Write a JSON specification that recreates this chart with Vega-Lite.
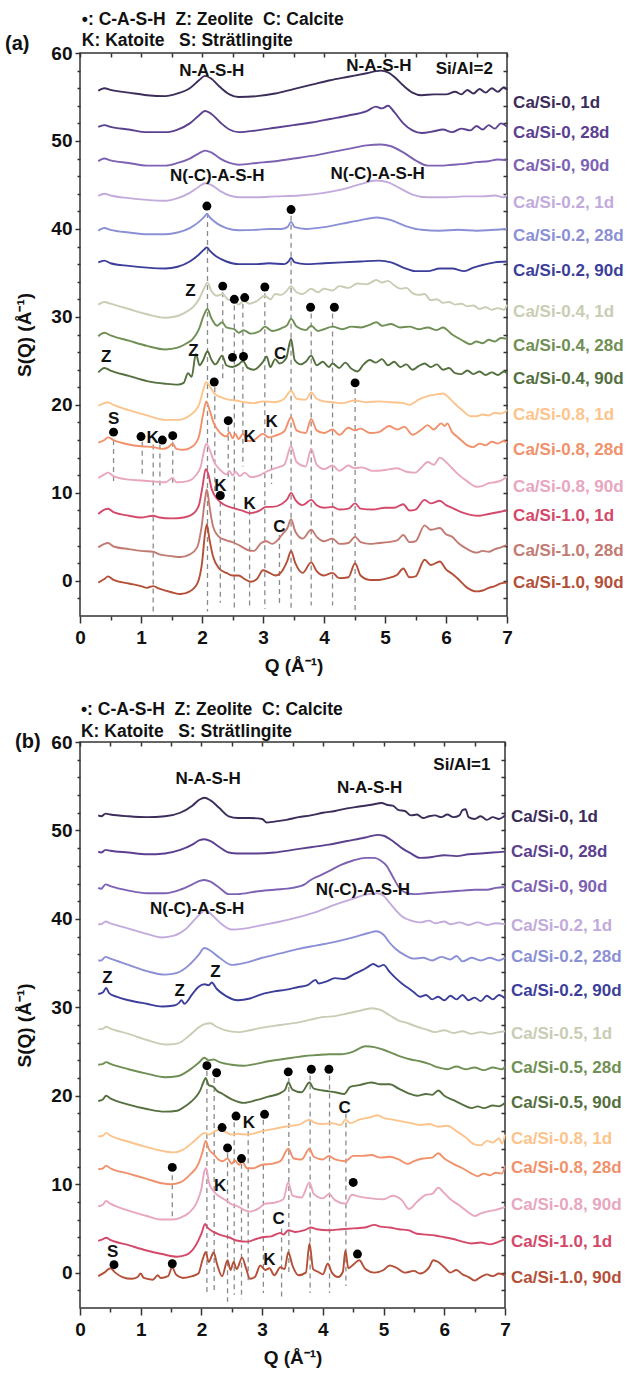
{
  "$schema": "https://vega.github.io/schema/vega-lite/v6.json",
  "padding": {"left": 4, "top": 10, "right": 0, "bottom": 0},
  "spacing": 23,
  "config": {
    "view": {"stroke": "#333", "strokeWidth": 1.5},
    "font": "Liberation Sans",
    "axis": {"grid": false, "domain": false, "tickColor": "#333", "tickWidth": 1.5, "labelFlush": false,
      "labelFont": "Liberation Sans", "labelFontWeight": "bold", "labelFontSize": 19, "labelColor": "#111",
      "titleFont": "Liberation Sans", "titleFontWeight": "bold", "titleFontSize": 19, "titleColor": "#111"}
  },
  "resolve": {"scale": {"color": "independent"}},
  "datasets": {
    "a": [
      {"k":1,"q":0.3,"v":55.7},{"k":1,"q":0.4,"v":56.0},{"k":1,"q":0.5,"v":55.8},{"k":1,"q":0.8,"v":55.5},{"k":1,"q":1.1,"v":55.2},{"k":1,"q":1.4,"v":55.1},{"k":1,"q":1.6,"v":55.4},{"k":1,"q":1.8,"v":56.0},{"k":1,"q":1.95,"v":56.9},{"k":1,"q":2.05,"v":57.4},{"k":1,"q":2.15,"v":57.1},{"k":1,"q":2.3,"v":56.1},{"k":1,"q":2.45,"v":55.3},{"k":1,"q":2.6,"v":55.0},{"k":1,"q":2.9,"v":55.1},{"k":1,"q":3.2,"v":55.4},{"k":1,"q":3.5,"v":55.9},{"k":1,"q":3.8,"v":56.4},{"k":1,"q":4.1,"v":56.9},{"k":1,"q":4.4,"v":57.3},{"k":1,"q":4.7,"v":57.7},{"k":1,"q":4.93,"v":58.0},{"k":1,"q":5.05,"v":57.8},{"k":1,"q":5.15,"v":57.3},{"k":1,"q":5.3,"v":56.3},{"k":1,"q":5.45,"v":55.5},{"k":1,"q":5.6,"v":55.2},{"k":1,"q":5.8,"v":55.3},{"k":1,"q":6.0,"v":55.3},{"k":1,"q":6.15,"v":55.6},{"k":1,"q":6.25,"v":55.3},{"k":1,"q":6.35,"v":55.8},{"k":1,"q":6.45,"v":55.4},{"k":1,"q":6.55,"v":55.9},{"k":1,"q":6.65,"v":55.5},{"k":1,"q":6.75,"v":56.0},{"k":1,"q":6.85,"v":55.6},{"k":1,"q":6.95,"v":56.1},{"k":1,"q":7.0,"v":55.8},
      {"k":2,"q":0.3,"v":51.6},{"k":2,"q":0.4,"v":51.8},{"k":2,"q":0.5,"v":51.6},{"k":2,"q":0.8,"v":51.3},{"k":2,"q":1.1,"v":51.0},{"k":2,"q":1.4,"v":51.0},{"k":2,"q":1.6,"v":51.3},{"k":2,"q":1.8,"v":52.0},{"k":2,"q":1.95,"v":52.9},{"k":2,"q":2.05,"v":53.4},{"k":2,"q":2.15,"v":53.1},{"k":2,"q":2.3,"v":52.1},{"k":2,"q":2.45,"v":51.3},{"k":2,"q":2.6,"v":51.0},{"k":2,"q":2.9,"v":51.2},{"k":2,"q":3.2,"v":51.5},{"k":2,"q":3.5,"v":51.8},{"k":2,"q":3.8,"v":52.1},{"k":2,"q":4.1,"v":52.5},{"k":2,"q":4.4,"v":52.9},{"k":2,"q":4.7,"v":53.4},{"k":2,"q":4.85,"v":53.9},{"k":2,"q":4.95,"v":53.7},{"k":2,"q":5.05,"v":54.0},{"k":2,"q":5.15,"v":53.3},{"k":2,"q":5.3,"v":52.0},{"k":2,"q":5.45,"v":51.2},{"k":2,"q":5.6,"v":50.9},{"k":2,"q":5.8,"v":51.1},{"k":2,"q":5.95,"v":51.3},{"k":2,"q":6.1,"v":51.0},{"k":2,"q":6.25,"v":51.4},{"k":2,"q":6.4,"v":51.2},{"k":2,"q":6.5,"v":51.7},{"k":2,"q":6.6,"v":51.3},{"k":2,"q":6.7,"v":51.8},{"k":2,"q":6.8,"v":51.4},{"k":2,"q":6.9,"v":52.0},{"k":2,"q":7.0,"v":51.6},
      {"k":3,"q":0.3,"v":47.7},{"k":3,"q":0.4,"v":48.0},{"k":3,"q":0.5,"v":47.8},{"k":3,"q":0.8,"v":47.5},{"k":3,"q":1.1,"v":47.2},{"k":3,"q":1.4,"v":47.2},{"k":3,"q":1.6,"v":47.5},{"k":3,"q":1.8,"v":48.0},{"k":3,"q":1.95,"v":48.6},{"k":3,"q":2.05,"v":48.9},{"k":3,"q":2.15,"v":48.7},{"k":3,"q":2.3,"v":48.0},{"k":3,"q":2.45,"v":47.5},{"k":3,"q":2.6,"v":47.3},{"k":3,"q":2.9,"v":47.5},{"k":3,"q":3.2,"v":47.7},{"k":3,"q":3.5,"v":48.0},{"k":3,"q":3.8,"v":48.3},{"k":3,"q":4.1,"v":48.7},{"k":3,"q":4.4,"v":49.1},{"k":3,"q":4.7,"v":49.5},{"k":3,"q":4.93,"v":49.6},{"k":3,"q":5.1,"v":49.4},{"k":3,"q":5.3,"v":48.7},{"k":3,"q":5.5,"v":47.8},{"k":3,"q":5.7,"v":47.2},{"k":3,"q":5.9,"v":47.2},{"k":3,"q":6.1,"v":47.3},{"k":3,"q":6.3,"v":47.4},{"k":3,"q":6.5,"v":47.6},{"k":3,"q":6.7,"v":47.7},{"k":3,"q":6.85,"v":47.9},{"k":3,"q":7.0,"v":47.8},
      {"k":4,"q":0.3,"v":43.75},{"k":4,"q":0.4,"v":44.0},{"k":4,"q":0.5,"v":43.8},{"k":4,"q":0.8,"v":43.5},{"k":4,"q":1.1,"v":43.3},{"k":4,"q":1.4,"v":43.2},{"k":4,"q":1.6,"v":43.5},{"k":4,"q":1.8,"v":44.1},{"k":4,"q":1.95,"v":44.8},{"k":4,"q":2.05,"v":45.2},{"k":4,"q":2.15,"v":45.0},{"k":4,"q":2.3,"v":44.3},{"k":4,"q":2.45,"v":43.8},{"k":4,"q":2.6,"v":43.6},{"k":4,"q":2.9,"v":43.6},{"k":4,"q":3.2,"v":43.7},{"k":4,"q":3.6,"v":43.8},{"k":4,"q":4.0,"v":44.1},{"k":4,"q":4.3,"v":44.5},{"k":4,"q":4.6,"v":45.1},{"k":4,"q":4.86,"v":45.5},{"k":4,"q":5.05,"v":45.3},{"k":4,"q":5.25,"v":44.6},{"k":4,"q":5.45,"v":43.9},{"k":4,"q":5.7,"v":43.6},{"k":4,"q":6.0,"v":43.6},{"k":4,"q":6.3,"v":43.7},{"k":4,"q":6.6,"v":43.7},{"k":4,"q":6.8,"v":43.8},{"k":4,"q":6.95,"v":43.6},{"k":4,"q":7.0,"v":43.9},
      {"k":5,"q":0.3,"v":39.8},{"k":5,"q":0.4,"v":40.1},{"k":5,"q":0.5,"v":39.9},{"k":5,"q":0.8,"v":39.6},{"k":5,"q":1.1,"v":39.4},{"k":5,"q":1.4,"v":39.4},{"k":5,"q":1.6,"v":39.6},{"k":5,"q":1.8,"v":40.1},{"k":5,"q":1.95,"v":40.8},{"k":5,"q":2.04,"v":41.4},{"k":5,"q":2.08,"v":41.7},{"k":5,"q":2.13,"v":41.3},{"k":5,"q":2.25,"v":40.6},{"k":5,"q":2.4,"v":40.1},{"k":5,"q":2.6,"v":39.85},{"k":5,"q":2.9,"v":39.9},{"k":5,"q":3.1,"v":40.0},{"k":5,"q":3.3,"v":40.0},{"k":5,"q":3.4,"v":40.2},{"k":5,"q":3.46,"v":40.8},{"k":5,"q":3.52,"v":40.2},{"k":5,"q":3.7,"v":40.0},{"k":5,"q":4.0,"v":40.2},{"k":5,"q":4.3,"v":40.6},{"k":5,"q":4.6,"v":41.0},{"k":5,"q":4.86,"v":41.3},{"k":5,"q":5.1,"v":41.0},{"k":5,"q":5.35,"v":40.3},{"k":5,"q":5.6,"v":39.9},{"k":5,"q":5.9,"v":39.8},{"k":5,"q":6.2,"v":39.9},{"k":5,"q":6.5,"v":39.8},{"k":5,"q":6.8,"v":39.9},{"k":5,"q":7.0,"v":40.0},
      {"k":6,"q":0.3,"v":36.2},{"k":6,"q":0.4,"v":36.4},{"k":6,"q":0.5,"v":36.1},{"k":6,"q":0.8,"v":35.8},{"k":6,"q":1.1,"v":35.6},{"k":6,"q":1.4,"v":35.5},{"k":6,"q":1.6,"v":35.7},{"k":6,"q":1.8,"v":36.3},{"k":6,"q":1.95,"v":37.1},{"k":6,"q":2.04,"v":37.7},{"k":6,"q":2.08,"v":37.9},{"k":6,"q":2.13,"v":37.5},{"k":6,"q":2.25,"v":36.8},{"k":6,"q":2.4,"v":36.3},{"k":6,"q":2.6,"v":36.0},{"k":6,"q":2.9,"v":36.0},{"k":6,"q":3.1,"v":36.1},{"k":6,"q":3.35,"v":36.0},{"k":6,"q":3.42,"v":36.3},{"k":6,"q":3.46,"v":36.7},{"k":6,"q":3.52,"v":36.2},{"k":6,"q":3.7,"v":36.0},{"k":6,"q":4.0,"v":36.1},{"k":6,"q":4.3,"v":36.2},{"k":6,"q":4.6,"v":36.3},{"k":6,"q":4.9,"v":36.4},{"k":6,"q":5.1,"v":36.2},{"k":6,"q":5.3,"v":35.6},{"k":6,"q":5.5,"v":35.2},{"k":6,"q":5.7,"v":35.2},{"k":6,"q":5.9,"v":35.5},{"k":6,"q":6.1,"v":35.5},{"k":6,"q":6.3,"v":35.2},{"k":6,"q":6.45,"v":35.6},{"k":6,"q":6.6,"v":35.9},{"k":6,"q":6.8,"v":36.2},{"k":6,"q":7.0,"v":36.3},
      {"k":7,"q":0.3,"v":31.4},{"k":7,"q":0.4,"v":31.7},{"k":7,"q":0.5,"v":31.5},{"k":7,"q":0.8,"v":30.9},{"k":7,"q":1.1,"v":30.3},{"k":7,"q":1.4,"v":29.9},{"k":7,"q":1.6,"v":30.1},{"k":7,"q":1.75,"v":30.6},{"k":7,"q":1.85,"v":31.1},{"k":7,"q":1.95,"v":32.0},{"k":7,"q":2.03,"v":33.2},{"k":7,"q":2.09,"v":33.9},{"k":7,"q":2.15,"v":33.0},{"k":7,"q":2.25,"v":32.4},{"k":7,"q":2.34,"v":32.6},{"k":7,"q":2.42,"v":32.0},{"k":7,"q":2.53,"v":31.8},{"k":7,"q":2.6,"v":31.4},{"k":7,"q":2.68,"v":31.8},{"k":7,"q":2.78,"v":31.5},{"k":7,"q":2.9,"v":31.8},{"k":7,"q":3.03,"v":32.4},{"k":7,"q":3.12,"v":32.0},{"k":7,"q":3.2,"v":32.6},{"k":7,"q":3.3,"v":32.5},{"k":7,"q":3.38,"v":32.9},{"k":7,"q":3.46,"v":33.5},{"k":7,"q":3.55,"v":32.8},{"k":7,"q":3.65,"v":32.6},{"k":7,"q":3.79,"v":33.2},{"k":7,"q":3.9,"v":32.8},{"k":7,"q":4.0,"v":33.2},{"k":7,"q":4.14,"v":33.0},{"k":7,"q":4.25,"v":33.5},{"k":7,"q":4.4,"v":33.3},{"k":7,"q":4.55,"v":33.8},{"k":7,"q":4.7,"v":33.7},{"k":7,"q":4.86,"v":34.2},{"k":7,"q":4.95,"v":33.9},{"k":7,"q":5.05,"v":34.1},{"k":7,"q":5.15,"v":33.6},{"k":7,"q":5.25,"v":33.2},{"k":7,"q":5.35,"v":33.3},{"k":7,"q":5.45,"v":32.7},{"k":7,"q":5.55,"v":32.5},{"k":7,"q":5.65,"v":32.6},{"k":7,"q":5.75,"v":31.9},{"k":7,"q":5.85,"v":32.0},{"k":7,"q":5.95,"v":31.6},{"k":7,"q":6.05,"v":31.7},{"k":7,"q":6.15,"v":31.4},{"k":7,"q":6.25,"v":31.5},{"k":7,"q":6.35,"v":31.2},{"k":7,"q":6.45,"v":31.3},{"k":7,"q":6.55,"v":30.9},{"k":7,"q":6.65,"v":31.1},{"k":7,"q":6.75,"v":30.8},{"k":7,"q":6.85,"v":31.0},{"k":7,"q":6.95,"v":30.8},{"k":7,"q":7.0,"v":31.4},
      {"k":8,"q":0.3,"v":27.8},{"k":8,"q":0.4,"v":28.2},{"k":8,"q":0.5,"v":27.9},{"k":8,"q":0.8,"v":27.3},{"k":8,"q":1.1,"v":26.7},{"k":8,"q":1.4,"v":26.3},{"k":8,"q":1.6,"v":26.5},{"k":8,"q":1.75,"v":27.0},{"k":8,"q":1.85,"v":27.5},{"k":8,"q":1.95,"v":28.6},{"k":8,"q":2.03,"v":30.2},{"k":8,"q":2.09,"v":30.9},{"k":8,"q":2.15,"v":29.9},{"k":8,"q":2.25,"v":29.0},{"k":8,"q":2.33,"v":29.4},{"k":8,"q":2.4,"v":28.8},{"k":8,"q":2.53,"v":28.6},{"k":8,"q":2.6,"v":28.2},{"k":8,"q":2.68,"v":28.5},{"k":8,"q":2.8,"v":28.1},{"k":8,"q":2.95,"v":28.4},{"k":8,"q":3.03,"v":28.9},{"k":8,"q":3.15,"v":28.4},{"k":8,"q":3.3,"v":28.7},{"k":8,"q":3.4,"v":29.1},{"k":8,"q":3.46,"v":29.8},{"k":8,"q":3.55,"v":28.9},{"k":8,"q":3.7,"v":28.5},{"k":8,"q":3.79,"v":29.0},{"k":8,"q":3.9,"v":28.4},{"k":8,"q":4.0,"v":28.6},{"k":8,"q":4.14,"v":28.9},{"k":8,"q":4.3,"v":28.6},{"k":8,"q":4.45,"v":28.9},{"k":8,"q":4.6,"v":28.8},{"k":8,"q":4.75,"v":29.1},{"k":8,"q":4.86,"v":29.4},{"k":8,"q":4.95,"v":29.0},{"k":8,"q":5.1,"v":29.2},{"k":8,"q":5.25,"v":28.8},{"k":8,"q":5.4,"v":28.9},{"k":8,"q":5.55,"v":28.6},{"k":8,"q":5.7,"v":28.8},{"k":8,"q":5.85,"v":28.5},{"k":8,"q":5.95,"v":28.8},{"k":8,"q":6.1,"v":28.0},{"k":8,"q":6.25,"v":27.4},{"k":8,"q":6.4,"v":26.9},{"k":8,"q":6.5,"v":27.2},{"k":8,"q":6.6,"v":27.0},{"k":8,"q":6.7,"v":27.4},{"k":8,"q":6.8,"v":27.2},{"k":8,"q":6.9,"v":27.6},{"k":8,"q":7.0,"v":27.5},
      {"k":9,"q":0.3,"v":23.7},{"k":9,"q":0.4,"v":24.2},{"k":9,"q":0.5,"v":23.9},{"k":9,"q":0.8,"v":23.3},{"k":9,"q":1.1,"v":22.7},{"k":9,"q":1.4,"v":22.4},{"k":9,"q":1.6,"v":22.3},{"k":9,"q":1.7,"v":22.5},{"k":9,"q":1.77,"v":23.6},{"k":9,"q":1.83,"v":23.2},{"k":9,"q":1.9,"v":25.8},{"k":9,"q":1.96,"v":24.5},{"k":9,"q":2.02,"v":25.1},{"k":9,"q":2.09,"v":26.1},{"k":9,"q":2.15,"v":25.2},{"k":9,"q":2.22,"v":24.6},{"k":9,"q":2.33,"v":25.6},{"k":9,"q":2.4,"v":24.5},{"k":9,"q":2.5,"v":24.3},{"k":9,"q":2.6,"v":24.6},{"k":9,"q":2.67,"v":25.0},{"k":9,"q":2.75,"v":24.2},{"k":9,"q":2.85,"v":24.0},{"k":9,"q":3.0,"v":24.9},{"k":9,"q":3.06,"v":25.5},{"k":9,"q":3.12,"v":24.3},{"k":9,"q":3.2,"v":25.2},{"k":9,"q":3.27,"v":24.7},{"k":9,"q":3.38,"v":25.3},{"k":9,"q":3.46,"v":27.5},{"k":9,"q":3.52,"v":25.1},{"k":9,"q":3.62,"v":24.6},{"k":9,"q":3.7,"v":24.9},{"k":9,"q":3.79,"v":25.6},{"k":9,"q":3.88,"v":24.5},{"k":9,"q":3.98,"v":24.9},{"k":9,"q":4.08,"v":24.3},{"k":9,"q":4.14,"v":24.7},{"k":9,"q":4.25,"v":24.2},{"k":9,"q":4.35,"v":24.8},{"k":9,"q":4.45,"v":24.1},{"k":9,"q":4.55,"v":23.8},{"k":9,"q":4.65,"v":24.6},{"k":9,"q":4.75,"v":25.1},{"k":9,"q":4.85,"v":24.8},{"k":9,"q":4.95,"v":25.2},{"k":9,"q":5.05,"v":24.5},{"k":9,"q":5.15,"v":24.9},{"k":9,"q":5.25,"v":24.3},{"k":9,"q":5.35,"v":24.6},{"k":9,"q":5.45,"v":24.0},{"k":9,"q":5.55,"v":24.4},{"k":9,"q":5.65,"v":24.7},{"k":9,"q":5.75,"v":24.3},{"k":9,"q":5.85,"v":24.6},{"k":9,"q":5.95,"v":24.0},{"k":9,"q":6.05,"v":24.2},{"k":9,"q":6.15,"v":23.6},{"k":9,"q":6.25,"v":23.5},{"k":9,"q":6.35,"v":23.9},{"k":9,"q":6.45,"v":23.5},{"k":9,"q":6.55,"v":23.8},{"k":9,"q":6.65,"v":23.4},{"k":9,"q":6.75,"v":23.7},{"k":9,"q":6.85,"v":23.4},{"k":9,"q":6.95,"v":23.8},{"k":9,"q":7.0,"v":23.6},
      {"k":10,"q":0.3,"v":19.9},{"k":10,"q":0.4,"v":20.2},{"k":10,"q":0.45,"v":20.3},{"k":10,"q":0.55,"v":20.0},{"k":10,"q":0.8,"v":19.4},{"k":10,"q":1.1,"v":18.8},{"k":10,"q":1.4,"v":18.3},{"k":10,"q":1.6,"v":18.3},{"k":10,"q":1.8,"v":18.8},{"k":10,"q":1.95,"v":20.0},{"k":10,"q":2.02,"v":21.7},{"k":10,"q":2.07,"v":22.6},{"k":10,"q":2.12,"v":22.2},{"k":10,"q":2.2,"v":21.3},{"k":10,"q":2.3,"v":20.9},{"k":10,"q":2.43,"v":20.6},{"k":10,"q":2.55,"v":20.5},{"k":10,"q":2.7,"v":20.3},{"k":10,"q":2.85,"v":20.2},{"k":10,"q":3.0,"v":20.4},{"k":10,"q":3.2,"v":20.3},{"k":10,"q":3.35,"v":20.7},{"k":10,"q":3.46,"v":21.6},{"k":10,"q":3.55,"v":20.7},{"k":10,"q":3.7,"v":20.6},{"k":10,"q":3.79,"v":21.4},{"k":10,"q":3.88,"v":20.7},{"k":10,"q":4.0,"v":20.4},{"k":10,"q":4.14,"v":20.3},{"k":10,"q":4.3,"v":20.2},{"k":10,"q":4.5,"v":20.5},{"k":10,"q":4.7,"v":20.3},{"k":10,"q":4.9,"v":20.4},{"k":10,"q":5.1,"v":20.3},{"k":10,"q":5.3,"v":20.2},{"k":10,"q":5.4,"v":20.0},{"k":10,"q":5.55,"v":20.6},{"k":10,"q":5.7,"v":21.0},{"k":10,"q":5.85,"v":21.2},{"k":10,"q":5.95,"v":21.3},{"k":10,"q":6.05,"v":20.8},{"k":10,"q":6.15,"v":20.1},{"k":10,"q":6.3,"v":19.2},{"k":10,"q":6.4,"v":18.7},{"k":10,"q":6.5,"v":18.7},{"k":10,"q":6.6,"v":18.9},{"k":10,"q":6.7,"v":18.8},{"k":10,"q":6.8,"v":19.1},{"k":10,"q":6.9,"v":19.0},{"k":10,"q":7.0,"v":19.4},
      {"k":11,"q":0.3,"v":15.7},{"k":11,"q":0.4,"v":16.0},{"k":11,"q":0.46,"v":16.3},{"k":11,"q":0.55,"v":16.0},{"k":11,"q":0.8,"v":15.5},{"k":11,"q":1.0,"v":15.3},{"k":11,"q":1.2,"v":15.2},{"k":11,"q":1.35,"v":15.0},{"k":11,"q":1.45,"v":15.2},{"k":11,"q":1.52,"v":15.6},{"k":11,"q":1.58,"v":15.0},{"k":11,"q":1.7,"v":14.9},{"k":11,"q":1.85,"v":15.3},{"k":11,"q":1.95,"v":16.4},{"k":11,"q":2.02,"v":19.0},{"k":11,"q":2.07,"v":20.4},{"k":11,"q":2.12,"v":19.5},{"k":11,"q":2.2,"v":17.8},{"k":11,"q":2.3,"v":16.8},{"k":11,"q":2.4,"v":16.4},{"k":11,"q":2.45,"v":16.9},{"k":11,"q":2.5,"v":16.2},{"k":11,"q":2.55,"v":16.7},{"k":11,"q":2.6,"v":16.1},{"k":11,"q":2.67,"v":16.7},{"k":11,"q":2.75,"v":15.9},{"k":11,"q":2.85,"v":16.0},{"k":11,"q":3.0,"v":16.7},{"k":11,"q":3.1,"v":16.3},{"k":11,"q":3.2,"v":16.5},{"k":11,"q":3.35,"v":17.0},{"k":11,"q":3.46,"v":18.6},{"k":11,"q":3.55,"v":17.1},{"k":11,"q":3.7,"v":16.8},{"k":11,"q":3.79,"v":18.4},{"k":11,"q":3.88,"v":17.1},{"k":11,"q":4.0,"v":16.8},{"k":11,"q":4.14,"v":17.2},{"k":11,"q":4.25,"v":16.6},{"k":11,"q":4.4,"v":17.4},{"k":11,"q":4.5,"v":17.1},{"k":11,"q":4.6,"v":17.3},{"k":11,"q":4.75,"v":16.8},{"k":11,"q":4.9,"v":16.9},{"k":11,"q":5.07,"v":17.6},{"k":11,"q":5.2,"v":17.2},{"k":11,"q":5.32,"v":17.5},{"k":11,"q":5.45,"v":16.6},{"k":11,"q":5.6,"v":17.2},{"k":11,"q":5.7,"v":17.7},{"k":11,"q":5.8,"v":17.2},{"k":11,"q":5.92,"v":17.9},{"k":11,"q":5.98,"v":17.6},{"k":11,"q":6.02,"v":17.9},{"k":11,"q":6.1,"v":16.9},{"k":11,"q":6.2,"v":16.3},{"k":11,"q":6.35,"v":15.4},{"k":11,"q":6.45,"v":15.2},{"k":11,"q":6.55,"v":15.6},{"k":11,"q":6.65,"v":15.4},{"k":11,"q":6.75,"v":15.8},{"k":11,"q":6.85,"v":15.6},{"k":11,"q":6.95,"v":15.9},{"k":11,"q":7.0,"v":15.7},
      {"k":12,"q":0.3,"v":11.7},{"k":12,"q":0.4,"v":12.1},{"k":12,"q":0.46,"v":12.3},{"k":12,"q":0.55,"v":11.9},{"k":12,"q":0.8,"v":11.5},{"k":12,"q":1.0,"v":11.4},{"k":12,"q":1.2,"v":11.3},{"k":12,"q":1.4,"v":11.2},{"k":12,"q":1.52,"v":11.7},{"k":12,"q":1.58,"v":11.2},{"k":12,"q":1.75,"v":11.3},{"k":12,"q":1.9,"v":12.0},{"k":12,"q":1.98,"v":13.0},{"k":12,"q":2.03,"v":14.7},{"k":12,"q":2.07,"v":15.6},{"k":12,"q":2.12,"v":15.0},{"k":12,"q":2.2,"v":13.5},{"k":12,"q":2.3,"v":12.6},{"k":12,"q":2.4,"v":12.1},{"k":12,"q":2.45,"v":12.5},{"k":12,"q":2.5,"v":12.0},{"k":12,"q":2.55,"v":12.4},{"k":12,"q":2.62,"v":11.9},{"k":12,"q":2.7,"v":12.3},{"k":12,"q":2.8,"v":11.8},{"k":12,"q":2.95,"v":12.0},{"k":12,"q":3.05,"v":12.4},{"k":12,"q":3.2,"v":12.8},{"k":12,"q":3.35,"v":13.2},{"k":12,"q":3.46,"v":15.3},{"k":12,"q":3.55,"v":13.5},{"k":12,"q":3.7,"v":13.0},{"k":12,"q":3.79,"v":15.0},{"k":12,"q":3.88,"v":13.2},{"k":12,"q":4.0,"v":12.7},{"k":12,"q":4.14,"v":13.1},{"k":12,"q":4.25,"v":12.5},{"k":12,"q":4.4,"v":13.1},{"k":12,"q":4.5,"v":12.8},{"k":12,"q":4.62,"v":12.9},{"k":12,"q":4.8,"v":12.5},{"k":12,"q":5.0,"v":12.6},{"k":12,"q":5.2,"v":12.8},{"k":12,"q":5.35,"v":12.4},{"k":12,"q":5.5,"v":12.3},{"k":12,"q":5.6,"v":12.9},{"k":12,"q":5.7,"v":13.5},{"k":12,"q":5.8,"v":13.2},{"k":12,"q":5.9,"v":14.0},{"k":12,"q":6.0,"v":13.5},{"k":12,"q":6.1,"v":12.8},{"k":12,"q":6.2,"v":12.1},{"k":12,"q":6.35,"v":11.3},{"k":12,"q":6.5,"v":10.7},{"k":12,"q":6.6,"v":10.8},{"k":12,"q":6.7,"v":11.1},{"k":12,"q":6.8,"v":11.2},{"k":12,"q":6.9,"v":11.4},{"k":12,"q":7.0,"v":11.8},
      {"k":13,"q":0.3,"v":7.6},{"k":13,"q":0.4,"v":8.1},{"k":13,"q":0.46,"v":8.2},{"k":13,"q":0.55,"v":7.8},{"k":13,"q":0.8,"v":7.4},{"k":13,"q":1.0,"v":7.2},{"k":13,"q":1.2,"v":7.4},{"k":13,"q":1.3,"v":7.2},{"k":13,"q":1.5,"v":7.1},{"k":13,"q":1.7,"v":7.2},{"k":13,"q":1.85,"v":7.6},{"k":13,"q":1.95,"v":8.6},{"k":13,"q":2.01,"v":10.8},{"k":13,"q":2.06,"v":12.7},{"k":13,"q":2.1,"v":12.2},{"k":13,"q":2.16,"v":10.4},{"k":13,"q":2.25,"v":9.3},{"k":13,"q":2.35,"v":8.7},{"k":13,"q":2.5,"v":8.3},{"k":13,"q":2.65,"v":8.0},{"k":13,"q":2.8,"v":7.7},{"k":13,"q":2.95,"v":8.0},{"k":13,"q":3.05,"v":8.4},{"k":13,"q":3.15,"v":8.4},{"k":13,"q":3.3,"v":8.7},{"k":13,"q":3.4,"v":9.3},{"k":13,"q":3.46,"v":10.0},{"k":13,"q":3.53,"v":9.2},{"k":13,"q":3.65,"v":8.6},{"k":13,"q":3.79,"v":9.2},{"k":13,"q":3.88,"v":8.6},{"k":13,"q":4.0,"v":8.3},{"k":13,"q":4.14,"v":8.4},{"k":13,"q":4.25,"v":8.1},{"k":13,"q":4.4,"v":8.2},{"k":13,"q":4.51,"v":8.8},{"k":13,"q":4.6,"v":8.2},{"k":13,"q":4.8,"v":8.1},{"k":13,"q":5.0,"v":8.3},{"k":13,"q":5.15,"v":8.3},{"k":13,"q":5.3,"v":8.7},{"k":13,"q":5.4,"v":8.0},{"k":13,"q":5.5,"v":8.1},{"k":13,"q":5.65,"v":9.2},{"k":13,"q":5.75,"v":8.8},{"k":13,"q":5.9,"v":9.1},{"k":13,"q":6.0,"v":8.6},{"k":13,"q":6.1,"v":8.3},{"k":13,"q":6.25,"v":7.8},{"k":13,"q":6.4,"v":7.5},{"k":13,"q":6.55,"v":7.4},{"k":13,"q":6.7,"v":7.6},{"k":13,"q":6.85,"v":7.8},{"k":13,"q":7.0,"v":8.0},
      {"k":14,"q":0.3,"v":3.8},{"k":14,"q":0.4,"v":4.2},{"k":14,"q":0.46,"v":4.3},{"k":14,"q":0.55,"v":3.9},{"k":14,"q":0.8,"v":3.6},{"k":14,"q":1.0,"v":3.4},{"k":14,"q":1.2,"v":3.3},{"k":14,"q":1.3,"v":3.0},{"k":14,"q":1.5,"v":2.8},{"k":14,"q":1.65,"v":2.7},{"k":14,"q":1.8,"v":3.0},{"k":14,"q":1.92,"v":3.8},{"k":14,"q":1.99,"v":6.0},{"k":14,"q":2.05,"v":9.3},{"k":14,"q":2.08,"v":10.4},{"k":14,"q":2.12,"v":8.6},{"k":14,"q":2.18,"v":6.2},{"k":14,"q":2.28,"v":5.0},{"k":14,"q":2.4,"v":4.6},{"k":14,"q":2.5,"v":4.4},{"k":14,"q":2.62,"v":4.0},{"k":14,"q":2.75,"v":3.5},{"k":14,"q":2.85,"v":3.4},{"k":14,"q":2.97,"v":4.3},{"k":14,"q":3.05,"v":4.5},{"k":14,"q":3.15,"v":4.2},{"k":14,"q":3.25,"v":4.7},{"k":14,"q":3.33,"v":5.4},{"k":14,"q":3.4,"v":6.0},{"k":14,"q":3.46,"v":7.0},{"k":14,"q":3.53,"v":5.6},{"k":14,"q":3.65,"v":4.8},{"k":14,"q":3.79,"v":5.8},{"k":14,"q":3.88,"v":5.0},{"k":14,"q":4.0,"v":4.5},{"k":14,"q":4.14,"v":4.8},{"k":14,"q":4.25,"v":4.2},{"k":14,"q":4.4,"v":4.3},{"k":14,"q":4.51,"v":5.0},{"k":14,"q":4.6,"v":4.4},{"k":14,"q":4.75,"v":4.2},{"k":14,"q":4.9,"v":4.3},{"k":14,"q":5.05,"v":4.4},{"k":14,"q":5.2,"v":4.6},{"k":14,"q":5.3,"v":5.2},{"k":14,"q":5.4,"v":4.4},{"k":14,"q":5.5,"v":4.5},{"k":14,"q":5.65,"v":6.3},{"k":14,"q":5.75,"v":5.8},{"k":14,"q":5.9,"v":6.0},{"k":14,"q":6.0,"v":5.3},{"k":14,"q":6.1,"v":5.0},{"k":14,"q":6.2,"v":4.3},{"k":14,"q":6.35,"v":3.6},{"k":14,"q":6.5,"v":3.2},{"k":14,"q":6.6,"v":3.4},{"k":14,"q":6.7,"v":3.3},{"k":14,"q":6.8,"v":3.6},{"k":14,"q":6.9,"v":3.8},{"k":14,"q":7.0,"v":4.1},
      {"k":15,"q":0.3,"v":-0.2},{"k":15,"q":0.4,"v":0.2},{"k":15,"q":0.46,"v":0.5},{"k":15,"q":0.55,"v":0.1},{"k":15,"q":0.8,"v":-0.3},{"k":15,"q":1.0,"v":-0.6},{"k":15,"q":1.1,"v":-0.8},{"k":15,"q":1.2,"v":-0.6},{"k":15,"q":1.3,"v":-0.9},{"k":15,"q":1.5,"v":-1.3},{"k":15,"q":1.65,"v":-1.5},{"k":15,"q":1.8,"v":-1.2},{"k":15,"q":1.93,"v":-0.2},{"k":15,"q":2.0,"v":2.0},{"k":15,"q":2.05,"v":5.4},{"k":15,"q":2.08,"v":6.4},{"k":15,"q":2.12,"v":4.8},{"k":15,"q":2.18,"v":2.8},{"k":15,"q":2.28,"v":1.4},{"k":15,"q":2.4,"v":0.9},{"k":15,"q":2.5,"v":0.6},{"k":15,"q":2.6,"v":0.6},{"k":15,"q":2.7,"v":0.2},{"k":15,"q":2.8,"v":-0.1},{"k":15,"q":2.9,"v":0.2},{"k":15,"q":3.0,"v":1.2},{"k":15,"q":3.08,"v":1.0},{"k":15,"q":3.2,"v":0.6},{"k":15,"q":3.3,"v":1.0},{"k":15,"q":3.4,"v":2.3},{"k":15,"q":3.46,"v":3.4},{"k":15,"q":3.53,"v":2.0},{"k":15,"q":3.65,"v":0.9},{"k":15,"q":3.79,"v":2.1},{"k":15,"q":3.88,"v":1.1},{"k":15,"q":4.0,"v":0.6},{"k":15,"q":4.14,"v":0.9},{"k":15,"q":4.25,"v":0.3},{"k":15,"q":4.4,"v":0.4},{"k":15,"q":4.51,"v":2.0},{"k":15,"q":4.6,"v":0.6},{"k":15,"q":4.75,"v":0.1},{"k":15,"q":4.9,"v":0.1},{"k":15,"q":5.05,"v":0.3},{"k":15,"q":5.2,"v":0.7},{"k":15,"q":5.3,"v":1.4},{"k":15,"q":5.4,"v":0.4},{"k":15,"q":5.5,"v":0.5},{"k":15,"q":5.65,"v":2.4},{"k":15,"q":5.75,"v":1.8},{"k":15,"q":5.9,"v":2.2},{"k":15,"q":6.0,"v":1.3},{"k":15,"q":6.1,"v":0.8},{"k":15,"q":6.2,"v":0.2},{"k":15,"q":6.35,"v":-0.8},{"k":15,"q":6.5,"v":-1.2},{"k":15,"q":6.6,"v":-1.1},{"k":15,"q":6.7,"v":-0.8},{"k":15,"q":6.8,"v":-0.6},{"k":15,"q":6.9,"v":-0.3},{"k":15,"q":7.0,"v":-0.2}
    ],
    "b": [
      {"k":1,"q":0.3,"v":51.7},{"k":1,"q":0.35,"v":51.6},{"k":1,"q":0.42,"v":51.9},{"k":1,"q":0.5,"v":51.8},{"k":1,"q":0.8,"v":51.6},{"k":1,"q":1.1,"v":51.5},{"k":1,"q":1.4,"v":51.6},{"k":1,"q":1.65,"v":52.0},{"k":1,"q":1.85,"v":52.8},{"k":1,"q":1.97,"v":53.5},{"k":1,"q":2.05,"v":53.7},{"k":1,"q":2.15,"v":53.4},{"k":1,"q":2.3,"v":52.5},{"k":1,"q":2.45,"v":51.6},{"k":1,"q":2.6,"v":51.4},{"k":1,"q":2.8,"v":51.4},{"k":1,"q":3.0,"v":51.3},{"k":1,"q":3.07,"v":50.9},{"k":1,"q":3.2,"v":51.0},{"k":1,"q":3.4,"v":51.2},{"k":1,"q":3.6,"v":51.5},{"k":1,"q":3.8,"v":51.7},{"k":1,"q":4.0,"v":52.0},{"k":1,"q":4.2,"v":52.2},{"k":1,"q":4.4,"v":52.5},{"k":1,"q":4.6,"v":52.7},{"k":1,"q":4.8,"v":52.9},{"k":1,"q":4.97,"v":53.1},{"k":1,"q":5.05,"v":52.9},{"k":1,"q":5.15,"v":52.8},{"k":1,"q":5.25,"v":52.3},{"k":1,"q":5.35,"v":52.2},{"k":1,"q":5.45,"v":51.7},{"k":1,"q":5.55,"v":51.8},{"k":1,"q":5.65,"v":51.4},{"k":1,"q":5.75,"v":51.6},{"k":1,"q":5.85,"v":51.7},{"k":1,"q":5.95,"v":51.5},{"k":1,"q":6.05,"v":51.8},{"k":1,"q":6.15,"v":51.5},{"k":1,"q":6.25,"v":51.7},{"k":1,"q":6.3,"v":52.3},{"k":1,"q":6.35,"v":52.4},{"k":1,"q":6.4,"v":51.5},{"k":1,"q":6.5,"v":51.3},{"k":1,"q":6.6,"v":51.6},{"k":1,"q":6.7,"v":51.2},{"k":1,"q":6.8,"v":51.5},{"k":1,"q":6.9,"v":51.3},{"k":1,"q":7.0,"v":51.7},
      {"k":2,"q":0.3,"v":47.6},{"k":2,"q":0.35,"v":47.5},{"k":2,"q":0.42,"v":47.8},{"k":2,"q":0.5,"v":47.7},{"k":2,"q":0.8,"v":47.5},{"k":2,"q":1.1,"v":47.3},{"k":2,"q":1.4,"v":47.4},{"k":2,"q":1.65,"v":47.8},{"k":2,"q":1.85,"v":48.4},{"k":2,"q":1.97,"v":48.9},{"k":2,"q":2.05,"v":49.0},{"k":2,"q":2.15,"v":48.8},{"k":2,"q":2.3,"v":48.1},{"k":2,"q":2.45,"v":47.5},{"k":2,"q":2.6,"v":47.4},{"k":2,"q":2.9,"v":47.4},{"k":2,"q":3.2,"v":47.5},{"k":2,"q":3.5,"v":47.8},{"k":2,"q":3.8,"v":48.1},{"k":2,"q":4.1,"v":48.4},{"k":2,"q":4.4,"v":48.8},{"k":2,"q":4.7,"v":49.2},{"k":2,"q":4.9,"v":49.5},{"k":2,"q":5.0,"v":49.4},{"k":2,"q":5.15,"v":48.8},{"k":2,"q":5.3,"v":48.0},{"k":2,"q":5.45,"v":47.4},{"k":2,"q":5.6,"v":46.9},{"k":2,"q":5.8,"v":47.0},{"k":2,"q":6.0,"v":47.2},{"k":2,"q":6.2,"v":47.1},{"k":2,"q":6.4,"v":47.3},{"k":2,"q":6.6,"v":47.4},{"k":2,"q":6.8,"v":47.5},{"k":2,"q":7.0,"v":47.6},
      {"k":3,"q":0.3,"v":43.5},{"k":3,"q":0.35,"v":43.4},{"k":3,"q":0.42,"v":43.9},{"k":3,"q":0.5,"v":43.7},{"k":3,"q":0.8,"v":43.2},{"k":3,"q":1.1,"v":42.9},{"k":3,"q":1.4,"v":42.9},{"k":3,"q":1.65,"v":43.3},{"k":3,"q":1.85,"v":43.9},{"k":3,"q":1.97,"v":44.3},{"k":3,"q":2.05,"v":44.4},{"k":3,"q":2.15,"v":44.2},{"k":3,"q":2.3,"v":43.5},{"k":3,"q":2.45,"v":42.8},{"k":3,"q":2.6,"v":42.8},{"k":3,"q":2.9,"v":43.1},{"k":3,"q":3.2,"v":43.3},{"k":3,"q":3.5,"v":43.5},{"k":3,"q":3.7,"v":43.9},{"k":3,"q":3.8,"v":44.4},{"k":3,"q":3.95,"v":44.9},{"k":3,"q":4.1,"v":45.4},{"k":3,"q":4.3,"v":46.1},{"k":3,"q":4.5,"v":46.6},{"k":3,"q":4.7,"v":46.9},{"k":3,"q":4.85,"v":46.9},{"k":3,"q":4.95,"v":46.6},{"k":3,"q":5.05,"v":46.0},{"k":3,"q":5.15,"v":44.8},{"k":3,"q":5.25,"v":43.6},{"k":3,"q":5.35,"v":43.0},{"k":3,"q":5.5,"v":42.8},{"k":3,"q":5.7,"v":42.9},{"k":3,"q":5.9,"v":43.0},{"k":3,"q":6.1,"v":43.1},{"k":3,"q":6.3,"v":43.2},{"k":3,"q":6.5,"v":43.3},{"k":3,"q":6.7,"v":43.3},{"k":3,"q":6.85,"v":43.5},{"k":3,"q":7.0,"v":43.6},
      {"k":4,"q":0.3,"v":39.4},{"k":4,"q":0.35,"v":39.4},{"k":4,"q":0.42,"v":39.7},{"k":4,"q":0.5,"v":39.5},{"k":4,"q":0.8,"v":38.9},{"k":4,"q":1.1,"v":38.3},{"k":4,"q":1.35,"v":37.9},{"k":4,"q":1.55,"v":38.1},{"k":4,"q":1.75,"v":38.9},{"k":4,"q":1.9,"v":40.0},{"k":4,"q":2.0,"v":40.7},{"k":4,"q":2.07,"v":41.0},{"k":4,"q":2.15,"v":40.6},{"k":4,"q":2.3,"v":39.6},{"k":4,"q":2.5,"v":38.8},{"k":4,"q":2.7,"v":38.9},{"k":4,"q":3.0,"v":39.3},{"k":4,"q":3.3,"v":39.7},{"k":4,"q":3.6,"v":40.2},{"k":4,"q":3.9,"v":40.8},{"k":4,"q":4.2,"v":41.6},{"k":4,"q":4.5,"v":42.3},{"k":4,"q":4.75,"v":42.8},{"k":4,"q":4.9,"v":42.9},{"k":4,"q":5.0,"v":42.6},{"k":4,"q":5.1,"v":41.8},{"k":4,"q":5.2,"v":41.0},{"k":4,"q":5.3,"v":40.3},{"k":4,"q":5.45,"v":39.8},{"k":4,"q":5.6,"v":39.6},{"k":4,"q":5.75,"v":39.8},{"k":4,"q":5.85,"v":39.5},{"k":4,"q":6.0,"v":39.7},{"k":4,"q":6.1,"v":39.4},{"k":4,"q":6.25,"v":39.6},{"k":4,"q":6.4,"v":39.3},{"k":4,"q":6.55,"v":39.6},{"k":4,"q":6.7,"v":39.3},{"k":4,"q":6.85,"v":39.5},{"k":4,"q":7.0,"v":39.4},
      {"k":5,"q":0.3,"v":35.3},{"k":5,"q":0.35,"v":35.3},{"k":5,"q":0.42,"v":35.7},{"k":5,"q":0.5,"v":35.5},{"k":5,"q":0.8,"v":34.8},{"k":5,"q":1.1,"v":34.1},{"k":5,"q":1.4,"v":33.7},{"k":5,"q":1.6,"v":33.9},{"k":5,"q":1.8,"v":34.8},{"k":5,"q":1.95,"v":35.9},{"k":5,"q":2.05,"v":36.7},{"k":5,"q":2.15,"v":36.4},{"k":5,"q":2.3,"v":35.6},{"k":5,"q":2.5,"v":34.8},{"k":5,"q":2.7,"v":35.0},{"k":5,"q":3.0,"v":35.6},{"k":5,"q":3.3,"v":36.1},{"k":5,"q":3.6,"v":36.6},{"k":5,"q":3.9,"v":37.0},{"k":5,"q":4.2,"v":37.4},{"k":5,"q":4.5,"v":37.9},{"k":5,"q":4.75,"v":38.4},{"k":5,"q":4.88,"v":38.6},{"k":5,"q":5.0,"v":38.2},{"k":5,"q":5.1,"v":37.3},{"k":5,"q":5.2,"v":36.6},{"k":5,"q":5.35,"v":35.9},{"k":5,"q":5.5,"v":35.5},{"k":5,"q":5.65,"v":35.6},{"k":5,"q":5.8,"v":35.3},{"k":5,"q":5.95,"v":35.7},{"k":5,"q":6.1,"v":35.4},{"k":5,"q":6.2,"v":35.8},{"k":5,"q":6.3,"v":35.2},{"k":5,"q":6.45,"v":35.6},{"k":5,"q":6.6,"v":35.3},{"k":5,"q":6.75,"v":35.6},{"k":5,"q":6.9,"v":35.3},{"k":5,"q":7.0,"v":35.6},
      {"k":6,"q":0.3,"v":31.5},{"k":6,"q":0.38,"v":31.7},{"k":6,"q":0.43,"v":32.2},{"k":6,"q":0.48,"v":31.6},{"k":6,"q":0.6,"v":31.2},{"k":6,"q":0.8,"v":30.8},{"k":6,"q":1.1,"v":30.4},{"k":6,"q":1.35,"v":30.1},{"k":6,"q":1.55,"v":30.2},{"k":6,"q":1.63,"v":30.5},{"k":6,"q":1.67,"v":30.8},{"k":6,"q":1.72,"v":30.4},{"k":6,"q":1.85,"v":31.5},{"k":6,"q":1.95,"v":32.3},{"k":6,"q":2.05,"v":32.6},{"k":6,"q":2.12,"v":32.5},{"k":6,"q":2.17,"v":32.8},{"k":6,"q":2.25,"v":32.1},{"k":6,"q":2.4,"v":31.3},{"k":6,"q":2.6,"v":30.8},{"k":6,"q":2.8,"v":31.0},{"k":6,"q":3.0,"v":31.5},{"k":6,"q":3.2,"v":31.8},{"k":6,"q":3.4,"v":32.0},{"k":6,"q":3.6,"v":32.3},{"k":6,"q":3.75,"v":32.5},{"k":6,"q":3.88,"v":33.1},{"k":6,"q":3.93,"v":32.7},{"k":6,"q":4.05,"v":32.9},{"k":6,"q":4.2,"v":33.3},{"k":6,"q":4.35,"v":33.2},{"k":6,"q":4.5,"v":33.7},{"k":6,"q":4.65,"v":34.2},{"k":6,"q":4.75,"v":34.6},{"k":6,"q":4.83,"v":34.9},{"k":6,"q":4.92,"v":34.6},{"k":6,"q":5.0,"v":34.8},{"k":6,"q":5.1,"v":34.0},{"k":6,"q":5.2,"v":33.3},{"k":6,"q":5.3,"v":32.7},{"k":6,"q":5.4,"v":32.2},{"k":6,"q":5.5,"v":31.7},{"k":6,"q":5.6,"v":31.2},{"k":6,"q":5.7,"v":31.4},{"k":6,"q":5.8,"v":30.9},{"k":6,"q":5.9,"v":31.2},{"k":6,"q":6.0,"v":30.8},{"k":6,"q":6.1,"v":31.3},{"k":6,"q":6.2,"v":30.9},{"k":6,"q":6.3,"v":31.4},{"k":6,"q":6.4,"v":30.8},{"k":6,"q":6.5,"v":31.1},{"k":6,"q":6.6,"v":30.7},{"k":6,"q":6.7,"v":31.3},{"k":6,"q":6.8,"v":30.9},{"k":6,"q":6.9,"v":31.4},{"k":6,"q":7.0,"v":31.0},
      {"k":7,"q":0.3,"v":27.5},{"k":7,"q":0.38,"v":27.6},{"k":7,"q":0.43,"v":27.8},{"k":7,"q":0.5,"v":27.6},{"k":7,"q":0.8,"v":27.0},{"k":7,"q":1.1,"v":26.3},{"k":7,"q":1.4,"v":25.8},{"k":7,"q":1.6,"v":25.9},{"k":7,"q":1.8,"v":26.8},{"k":7,"q":1.95,"v":27.7},{"k":7,"q":2.05,"v":28.1},{"k":7,"q":2.15,"v":28.2},{"k":7,"q":2.25,"v":27.8},{"k":7,"q":2.4,"v":27.4},{"k":7,"q":2.6,"v":27.2},{"k":7,"q":2.8,"v":27.4},{"k":7,"q":3.0,"v":27.7},{"k":7,"q":3.3,"v":28.0},{"k":7,"q":3.6,"v":28.3},{"k":7,"q":3.8,"v":28.6},{"k":7,"q":4.0,"v":28.9},{"k":7,"q":4.2,"v":29.0},{"k":7,"q":4.4,"v":29.3},{"k":7,"q":4.6,"v":29.6},{"k":7,"q":4.8,"v":29.9},{"k":7,"q":4.95,"v":29.7},{"k":7,"q":5.1,"v":29.1},{"k":7,"q":5.25,"v":28.5},{"k":7,"q":5.4,"v":28.2},{"k":7,"q":5.55,"v":27.8},{"k":7,"q":5.7,"v":27.5},{"k":7,"q":5.85,"v":27.2},{"k":7,"q":6.0,"v":27.4},{"k":7,"q":6.15,"v":27.1},{"k":7,"q":6.3,"v":27.3},{"k":7,"q":6.45,"v":27.0},{"k":7,"q":6.6,"v":27.2},{"k":7,"q":6.75,"v":27.0},{"k":7,"q":6.9,"v":27.2},{"k":7,"q":7.0,"v":27.3},
      {"k":8,"q":0.3,"v":23.5},{"k":8,"q":0.38,"v":23.6},{"k":8,"q":0.43,"v":23.8},{"k":8,"q":0.5,"v":23.6},{"k":8,"q":0.8,"v":23.0},{"k":8,"q":1.1,"v":22.5},{"k":8,"q":1.4,"v":22.1},{"k":8,"q":1.6,"v":22.2},{"k":8,"q":1.8,"v":22.9},{"k":8,"q":1.95,"v":23.7},{"k":8,"q":2.05,"v":24.3},{"k":8,"q":2.12,"v":24.0},{"k":8,"q":2.2,"v":24.1},{"k":8,"q":2.3,"v":23.8},{"k":8,"q":2.5,"v":23.5},{"k":8,"q":2.7,"v":23.4},{"k":8,"q":2.9,"v":23.6},{"k":8,"q":3.1,"v":23.9},{"k":8,"q":3.3,"v":24.1},{"k":8,"q":3.5,"v":24.3},{"k":8,"q":3.7,"v":24.5},{"k":8,"q":3.9,"v":24.6},{"k":8,"q":4.1,"v":24.7},{"k":8,"q":4.3,"v":24.7},{"k":8,"q":4.5,"v":25.0},{"k":8,"q":4.7,"v":25.6},{"k":8,"q":4.85,"v":25.5},{"k":8,"q":5.0,"v":25.2},{"k":8,"q":5.15,"v":24.8},{"k":8,"q":5.3,"v":24.4},{"k":8,"q":5.45,"v":24.1},{"k":8,"q":5.6,"v":23.9},{"k":8,"q":5.75,"v":23.6},{"k":8,"q":5.9,"v":23.2},{"k":8,"q":6.05,"v":23.0},{"k":8,"q":6.2,"v":23.3},{"k":8,"q":6.35,"v":23.0},{"k":8,"q":6.5,"v":23.2},{"k":8,"q":6.65,"v":22.9},{"k":8,"q":6.8,"v":23.2},{"k":8,"q":6.95,"v":23.0},{"k":8,"q":7.0,"v":23.3},
      {"k":9,"q":0.3,"v":19.4},{"k":9,"q":0.38,"v":19.6},{"k":9,"q":0.43,"v":20.0},{"k":9,"q":0.5,"v":19.7},{"k":9,"q":0.8,"v":19.0},{"k":9,"q":1.1,"v":18.5},{"k":9,"q":1.4,"v":18.2},{"k":9,"q":1.6,"v":18.3},{"k":9,"q":1.75,"v":18.9},{"k":9,"q":1.9,"v":19.8},{"k":9,"q":1.98,"v":20.6},{"k":9,"q":2.03,"v":21.5},{"k":9,"q":2.07,"v":22.0},{"k":9,"q":2.12,"v":21.2},{"k":9,"q":2.2,"v":21.0},{"k":9,"q":2.25,"v":20.6},{"k":9,"q":2.35,"v":20.2},{"k":9,"q":2.5,"v":19.6},{"k":9,"q":2.7,"v":19.2},{"k":9,"q":2.9,"v":19.5},{"k":9,"q":3.1,"v":19.9},{"k":9,"q":3.3,"v":20.3},{"k":9,"q":3.38,"v":20.7},{"k":9,"q":3.43,"v":21.5},{"k":9,"q":3.5,"v":20.7},{"k":9,"q":3.65,"v":20.4},{"k":9,"q":3.78,"v":21.5},{"k":9,"q":3.85,"v":20.8},{"k":9,"q":4.0,"v":20.6},{"k":9,"q":4.1,"v":20.5},{"k":9,"q":4.2,"v":20.4},{"k":9,"q":4.35,"v":20.2},{"k":9,"q":4.45,"v":21.0},{"k":9,"q":4.6,"v":21.2},{"k":9,"q":4.8,"v":21.5},{"k":9,"q":4.95,"v":21.3},{"k":9,"q":5.1,"v":21.3},{"k":9,"q":5.25,"v":20.8},{"k":9,"q":5.4,"v":20.3},{"k":9,"q":5.55,"v":20.0},{"k":9,"q":5.7,"v":20.2},{"k":9,"q":5.8,"v":20.1},{"k":9,"q":5.9,"v":20.6},{"k":9,"q":6.0,"v":20.0},{"k":9,"q":6.15,"v":19.5},{"k":9,"q":6.3,"v":19.0},{"k":9,"q":6.45,"v":18.6},{"k":9,"q":6.55,"v":18.8},{"k":9,"q":6.65,"v":18.6},{"k":9,"q":6.8,"v":18.9},{"k":9,"q":6.9,"v":18.8},{"k":9,"q":7.0,"v":19.2},
      {"k":10,"q":0.3,"v":15.4},{"k":10,"q":0.38,"v":15.5},{"k":10,"q":0.43,"v":15.8},{"k":10,"q":0.5,"v":15.5},{"k":10,"q":0.8,"v":14.8},{"k":10,"q":1.1,"v":14.2},{"k":10,"q":1.4,"v":13.7},{"k":10,"q":1.55,"v":13.6},{"k":10,"q":1.7,"v":13.9},{"k":10,"q":1.85,"v":14.7},{"k":10,"q":1.95,"v":15.3},{"k":10,"q":2.05,"v":15.8},{"k":10,"q":2.12,"v":15.6},{"k":10,"q":2.2,"v":15.9},{"k":10,"q":2.3,"v":16.2},{"k":10,"q":2.4,"v":15.9},{"k":10,"q":2.5,"v":15.6},{"k":10,"q":2.6,"v":15.7},{"k":10,"q":2.75,"v":15.6},{"k":10,"q":2.9,"v":15.8},{"k":10,"q":3.0,"v":16.0},{"k":10,"q":3.15,"v":16.2},{"k":10,"q":3.3,"v":16.4},{"k":10,"q":3.45,"v":16.6},{"k":10,"q":3.6,"v":16.7},{"k":10,"q":3.78,"v":17.3},{"k":10,"q":3.85,"v":17.0},{"k":10,"q":4.0,"v":16.8},{"k":10,"q":4.15,"v":16.9},{"k":10,"q":4.3,"v":16.7},{"k":10,"q":4.37,"v":17.3},{"k":10,"q":4.45,"v":16.9},{"k":10,"q":4.6,"v":17.3},{"k":10,"q":4.8,"v":17.6},{"k":10,"q":4.9,"v":17.8},{"k":10,"q":5.0,"v":17.5},{"k":10,"q":5.15,"v":17.3},{"k":10,"q":5.3,"v":17.1},{"k":10,"q":5.45,"v":16.9},{"k":10,"q":5.6,"v":16.7},{"k":10,"q":5.75,"v":16.8},{"k":10,"q":5.9,"v":16.5},{"k":10,"q":6.05,"v":16.6},{"k":10,"q":6.2,"v":16.0},{"k":10,"q":6.35,"v":15.3},{"k":10,"q":6.5,"v":14.5},{"k":10,"q":6.6,"v":14.4},{"k":10,"q":6.7,"v":14.9},{"k":10,"q":6.8,"v":14.7},{"k":10,"q":6.9,"v":15.2},{"k":10,"q":6.95,"v":14.6},{"k":10,"q":7.0,"v":15.6},
      {"k":11,"q":0.3,"v":11.7},{"k":11,"q":0.38,"v":11.8},{"k":11,"q":0.43,"v":12.1},{"k":11,"q":0.5,"v":11.8},{"k":11,"q":0.8,"v":11.2},{"k":11,"q":1.1,"v":10.6},{"k":11,"q":1.35,"v":10.1},{"k":11,"q":1.5,"v":10.0},{"k":11,"q":1.65,"v":10.2},{"k":11,"q":1.8,"v":11.0},{"k":11,"q":1.95,"v":12.3},{"k":11,"q":2.02,"v":13.7},{"k":11,"q":2.07,"v":14.9},{"k":11,"q":2.12,"v":14.0},{"k":11,"q":2.2,"v":13.4},{"k":11,"q":2.28,"v":12.8},{"k":11,"q":2.35,"v":12.6},{"k":11,"q":2.43,"v":12.9},{"k":11,"q":2.5,"v":12.3},{"k":11,"q":2.55,"v":12.7},{"k":11,"q":2.62,"v":12.2},{"k":11,"q":2.67,"v":12.6},{"k":11,"q":2.75,"v":11.8},{"k":11,"q":2.85,"v":11.8},{"k":11,"q":3.0,"v":12.2},{"k":11,"q":3.15,"v":12.3},{"k":11,"q":3.3,"v":12.6},{"k":11,"q":3.43,"v":14.0},{"k":11,"q":3.52,"v":12.9},{"k":11,"q":3.65,"v":12.8},{"k":11,"q":3.78,"v":14.0},{"k":11,"q":3.85,"v":13.1},{"k":11,"q":4.0,"v":12.8},{"k":11,"q":4.1,"v":13.2},{"k":11,"q":4.2,"v":12.8},{"k":11,"q":4.37,"v":12.6},{"k":11,"q":4.5,"v":13.2},{"k":11,"q":4.65,"v":13.2},{"k":11,"q":4.8,"v":13.3},{"k":11,"q":4.95,"v":13.0},{"k":11,"q":5.1,"v":13.1},{"k":11,"q":5.25,"v":12.8},{"k":11,"q":5.4,"v":12.3},{"k":11,"q":5.5,"v":12.6},{"k":11,"q":5.65,"v":12.9},{"k":11,"q":5.8,"v":13.0},{"k":11,"q":5.9,"v":13.5},{"k":11,"q":6.0,"v":12.9},{"k":11,"q":6.15,"v":12.3},{"k":11,"q":6.3,"v":11.8},{"k":11,"q":6.45,"v":11.2},{"k":11,"q":6.55,"v":10.9},{"k":11,"q":6.65,"v":11.2},{"k":11,"q":6.75,"v":11.0},{"k":11,"q":6.85,"v":11.3},{"k":11,"q":6.95,"v":11.2},{"k":11,"q":7.0,"v":12.1},
      {"k":12,"q":0.3,"v":7.5},{"k":12,"q":0.38,"v":7.7},{"k":12,"q":0.43,"v":8.1},{"k":12,"q":0.5,"v":7.8},{"k":12,"q":0.8,"v":7.0},{"k":12,"q":1.1,"v":6.4},{"k":12,"q":1.35,"v":6.0},{"k":12,"q":1.5,"v":6.0},{"k":12,"q":1.65,"v":6.2},{"k":12,"q":1.8,"v":6.8},{"k":12,"q":1.92,"v":7.9},{"k":12,"q":2.0,"v":9.5},{"k":12,"q":2.05,"v":11.5},{"k":12,"q":2.08,"v":11.8},{"k":12,"q":2.12,"v":10.3},{"k":12,"q":2.2,"v":9.2},{"k":12,"q":2.3,"v":8.6},{"k":12,"q":2.4,"v":8.2},{"k":12,"q":2.5,"v":7.7},{"k":12,"q":2.6,"v":7.5},{"k":12,"q":2.7,"v":7.1},{"k":12,"q":2.8,"v":6.9},{"k":12,"q":2.95,"v":7.3},{"k":12,"q":3.05,"v":7.8},{"k":12,"q":3.2,"v":7.9},{"k":12,"q":3.35,"v":8.3},{"k":12,"q":3.43,"v":10.2},{"k":12,"q":3.5,"v":8.7},{"k":12,"q":3.65,"v":8.5},{"k":12,"q":3.78,"v":10.2},{"k":12,"q":3.85,"v":8.9},{"k":12,"q":4.0,"v":8.4},{"k":12,"q":4.1,"v":8.9},{"k":12,"q":4.2,"v":8.2},{"k":12,"q":4.37,"v":7.8},{"k":12,"q":4.48,"v":8.8},{"k":12,"q":4.6,"v":8.6},{"k":12,"q":4.8,"v":8.4},{"k":12,"q":5.0,"v":8.3},{"k":12,"q":5.15,"v":8.7},{"k":12,"q":5.3,"v":8.2},{"k":12,"q":5.42,"v":7.2},{"k":12,"q":5.55,"v":8.0},{"k":12,"q":5.7,"v":8.8},{"k":12,"q":5.8,"v":8.9},{"k":12,"q":5.9,"v":9.6},{"k":12,"q":6.0,"v":9.0},{"k":12,"q":6.1,"v":8.3},{"k":12,"q":6.25,"v":7.6},{"k":12,"q":6.4,"v":6.8},{"k":12,"q":6.5,"v":6.4},{"k":12,"q":6.6,"v":6.7},{"k":12,"q":6.7,"v":6.9},{"k":12,"q":6.85,"v":7.1},{"k":12,"q":7.0,"v":7.4},
      {"k":13,"q":0.3,"v":3.6},{"k":13,"q":0.38,"v":3.8},{"k":13,"q":0.43,"v":3.95},{"k":13,"q":0.5,"v":3.7},{"k":13,"q":0.8,"v":3.1},{"k":13,"q":1.1,"v":2.5},{"k":13,"q":1.35,"v":2.1},{"k":13,"q":1.6,"v":1.8},{"k":13,"q":1.75,"v":2.0},{"k":13,"q":1.9,"v":3.0},{"k":13,"q":2.0,"v":4.4},{"k":13,"q":2.06,"v":5.5},{"k":13,"q":2.1,"v":5.1},{"k":13,"q":2.2,"v":4.6},{"k":13,"q":2.3,"v":4.3},{"k":13,"q":2.45,"v":4.0},{"k":13,"q":2.6,"v":3.6},{"k":13,"q":2.75,"v":3.5},{"k":13,"q":2.9,"v":3.8},{"k":13,"q":3.0,"v":4.0},{"k":13,"q":3.15,"v":4.1},{"k":13,"q":3.3,"v":4.5},{"k":13,"q":3.35,"v":4.3},{"k":13,"q":3.43,"v":4.8},{"k":13,"q":3.55,"v":4.6},{"k":13,"q":3.7,"v":4.8},{"k":13,"q":3.8,"v":5.1},{"k":13,"q":3.9,"v":4.9},{"k":13,"q":4.1,"v":4.8},{"k":13,"q":4.3,"v":4.9},{"k":13,"q":4.5,"v":5.0},{"k":13,"q":4.7,"v":5.1},{"k":13,"q":4.85,"v":5.4},{"k":13,"q":4.95,"v":5.2},{"k":13,"q":5.1,"v":5.1},{"k":13,"q":5.25,"v":4.9},{"k":13,"q":5.4,"v":4.8},{"k":13,"q":5.55,"v":4.4},{"k":13,"q":5.7,"v":4.3},{"k":13,"q":5.85,"v":4.2},{"k":13,"q":6.0,"v":4.0},{"k":13,"q":6.15,"v":3.8},{"k":13,"q":6.3,"v":3.5},{"k":13,"q":6.45,"v":3.3},{"k":13,"q":6.6,"v":3.4},{"k":13,"q":6.75,"v":3.2},{"k":13,"q":6.9,"v":3.5},{"k":13,"q":7.0,"v":3.8},
      {"k":14,"q":0.3,"v":-0.4},{"k":14,"q":0.4,"v":0.0},{"k":14,"q":0.5,"v":0.5},{"k":14,"q":0.58,"v":0.0},{"k":14,"q":0.7,"v":-0.5},{"k":14,"q":0.85,"v":-0.7},{"k":14,"q":0.95,"v":-0.5},{"k":14,"q":1.0,"v":-0.1},{"k":14,"q":1.05,"v":-0.6},{"k":14,"q":1.2,"v":-0.8},{"k":14,"q":1.28,"v":-0.3},{"k":14,"q":1.33,"v":-0.6},{"k":14,"q":1.45,"v":-0.4},{"k":14,"q":1.52,"v":0.6},{"k":14,"q":1.58,"v":-0.2},{"k":14,"q":1.7,"v":-0.6},{"k":14,"q":1.85,"v":-0.4},{"k":14,"q":1.95,"v":-0.1},{"k":14,"q":2.02,"v":1.5},{"k":14,"q":2.07,"v":2.3},{"k":14,"q":2.12,"v":1.2},{"k":14,"q":2.17,"v":1.9},{"k":14,"q":2.2,"v":2.3},{"k":14,"q":2.26,"v":0.9},{"k":14,"q":2.34,"v":-0.4},{"k":14,"q":2.43,"v":1.4},{"k":14,"q":2.48,"v":0.3},{"k":14,"q":2.53,"v":1.2},{"k":14,"q":2.58,"v":0.4},{"k":14,"q":2.67,"v":1.7},{"k":14,"q":2.73,"v":0.6},{"k":14,"q":2.8,"v":-0.7},{"k":14,"q":2.88,"v":-0.5},{"k":14,"q":2.97,"v":0.8},{"k":14,"q":3.05,"v":0.3},{"k":14,"q":3.12,"v":0.5},{"k":14,"q":3.2,"v":-0.3},{"k":14,"q":3.3,"v":0.6},{"k":14,"q":3.37,"v":0.4},{"k":14,"q":3.43,"v":2.3},{"k":14,"q":3.5,"v":0.8},{"k":14,"q":3.6,"v":-0.3},{"k":14,"q":3.72,"v":0.0},{"k":14,"q":3.78,"v":3.3},{"k":14,"q":3.84,"v":0.4},{"k":14,"q":3.92,"v":0.1},{"k":14,"q":4.0,"v":-0.2},{"k":14,"q":4.08,"v":1.0},{"k":14,"q":4.15,"v":0.0},{"k":14,"q":4.25,"v":-0.5},{"k":14,"q":4.33,"v":0.1},{"k":14,"q":4.37,"v":2.5},{"k":14,"q":4.42,"v":0.5},{"k":14,"q":4.5,"v":0.9},{"k":14,"q":4.6,"v":1.4},{"k":14,"q":4.7,"v":0.4},{"k":14,"q":4.85,"v":0.0},{"k":14,"q":5.0,"v":0.3},{"k":14,"q":5.1,"v":0.8},{"k":14,"q":5.2,"v":0.6},{"k":14,"q":5.35,"v":0.0},{"k":14,"q":5.5,"v":0.2},{"k":14,"q":5.6,"v":-0.1},{"k":14,"q":5.75,"v":0.6},{"k":14,"q":5.82,"v":1.4},{"k":14,"q":5.9,"v":1.2},{"k":14,"q":6.0,"v":0.6},{"k":14,"q":6.1,"v":0.0},{"k":14,"q":6.2,"v":0.3},{"k":14,"q":6.3,"v":-0.2},{"k":14,"q":6.4,"v":-0.5},{"k":14,"q":6.5,"v":-0.9},{"k":14,"q":6.6,"v":-0.5},{"k":14,"q":6.7,"v":-0.2},{"k":14,"q":6.8,"v":-0.4},{"k":14,"q":6.9,"v":-0.1},{"k":14,"q":7.0,"v":-0.3}
    ],
    "labA": [
      {"k":1,"v":54.3,"name":"Ca/Si-0, 1d"},{"k":2,"v":50.9,"name":"Ca/Si-0, 28d"},{"k":3,"v":47.1,"name":"Ca/Si-0, 90d"},
      {"k":4,"v":43.0,"name":"Ca/Si-0.2, 1d"},{"k":5,"v":39.2,"name":"Ca/Si-0.2, 28d"},{"k":6,"v":35.2,"name":"Ca/Si-0.2, 90d"},
      {"k":7,"v":30.6,"name":"Ca/Si-0.4, 1d"},{"k":8,"v":26.7,"name":"Ca/Si-0.4, 28d"},{"k":9,"v":22.9,"name":"Ca/Si-0.4, 90d"},
      {"k":10,"v":18.9,"name":"Ca/Si-0.8, 1d"},{"k":11,"v":14.85,"name":"Ca/Si-0.8, 28d"},{"k":12,"v":10.7,"name":"Ca/Si-0.8, 90d"},
      {"k":13,"v":7.4,"name":"Ca/Si-1.0, 1d"},{"k":14,"v":3.4,"name":"Ca/Si-1.0, 28d"},{"k":15,"v":-0.2,"name":"Ca/Si-1.0, 90d"}
    ],
    "labB": [
      {"k":1,"v":51.5,"name":"Ca/Si-0, 1d"},{"k":2,"v":47.6,"name":"Ca/Si-0, 28d"},{"k":3,"v":43.6,"name":"Ca/Si-0, 90d"},
      {"k":4,"v":39.2,"name":"Ca/Si-0.2, 1d"},{"k":5,"v":35.7,"name":"Ca/Si-0.2, 28d"},{"k":6,"v":31.8,"name":"Ca/Si-0.2, 90d"},
      {"k":7,"v":27.0,"name":"Ca/Si-0.5, 1d"},{"k":8,"v":23.1,"name":"Ca/Si-0.5, 28d"},{"k":9,"v":19.2,"name":"Ca/Si-0.5, 90d"},
      {"k":10,"v":15.1,"name":"Ca/Si-0.8, 1d"},{"k":11,"v":11.8,"name":"Ca/Si-0.8, 28d"},{"k":12,"v":7.65,"name":"Ca/Si-0.8, 90d"},
      {"k":13,"v":3.5,"name":"Ca/Si-1.0, 1d"},{"k":14,"v":-0.6,"name":"Ca/Si-1.0, 90d"}
    ],
    "dashA": [
      {"q":0.55,"v":16,"v2":11},{"q":1.02,"v":15.8,"v2":12},{"q":1.2,"v":15.5,"v2":-3.5},{"q":1.31,"v":15.5,"v2":10.5},{"q":1.52,"v":15.8,"v2":11},
      {"q":2.09,"v":41.8,"v2":-3.5},{"q":2.21,"v":22,"v2":10},{"q":2.3,"v":9.0,"v2":-2.5},{"q":2.34,"v":32.8,"v2":23},{"q":2.43,"v":17.5,"v2":11.5},
      {"q":2.53,"v":31.3,"v2":-3.3},{"q":2.67,"v":31.5,"v2":13},{"q":2.78,"v":8,"v2":-3.2},{"q":3.03,"v":32.7,"v2":-3.2},{"q":3.14,"v":17.3,"v2":11},
      {"q":3.27,"v":5.2,"v2":-2.8},{"q":3.46,"v":41.5,"v2":-3.2},{"q":3.79,"v":30.4,"v2":-2.8},{"q":4.14,"v":30.4,"v2":-2.8},{"q":4.51,"v":21.8,"v2":-3.5}
    ],
    "dashB": [
      {"q":1.52,"v":11,"v2":6.3},{"q":2.09,"v":22.8,"v2":-2.5},{"q":2.21,"v":22,"v2":-2},{"q":2.43,"v":13.5,"v2":-3.3},{"q":2.54,"v":17,"v2":-2.5},
      {"q":2.66,"v":12.3,"v2":-3},{"q":2.77,"v":16,"v2":-1},{"q":3.02,"v":17.3,"v2":-2.3},{"q":3.32,"v":5,"v2":-3},{"q":3.44,"v":22,"v2":0},
      {"q":3.79,"v":22.3,"v2":-2.3},{"q":4.11,"v":22.3,"v2":-2.3},{"q":4.38,"v":18,"v2":-1.5}
    ],
    "dotsA": [
      {"q":2.08,"v":42.6},{"q":3.46,"v":42.2},{"q":2.34,"v":33.5},{"q":2.53,"v":32.0},{"q":2.7,"v":32.2},{"q":3.03,"v":33.4},{"q":3.78,"v":31.1},{"q":4.17,"v":31.1},
      {"q":2.5,"v":25.4},{"q":2.68,"v":25.5},{"q":2.2,"v":22.6},{"q":4.51,"v":22.5},{"q":0.55,"v":16.9},{"q":1.0,"v":16.4},{"q":1.35,"v":16.0},{"q":1.52,"v":16.5},
      {"q":2.43,"v":18.2},{"q":2.3,"v":9.7}
    ],
    "dotsB": [
      {"q":2.09,"v":23.4},{"q":2.25,"v":22.6},{"q":3.43,"v":22.7},{"q":3.81,"v":23.0},{"q":4.1,"v":23.0},{"q":2.34,"v":16.4},{"q":2.57,"v":17.7},{"q":3.04,"v":17.9},
      {"q":2.43,"v":14.1},{"q":2.66,"v":12.9},{"q":1.52,"v":11.9},{"q":4.5,"v":10.2},{"q":0.56,"v":0.9},{"q":1.52,"v":1.0},{"q":4.57,"v":2.1}
    ],
    "txtA": [
      {"q":2.16,"v":58.0,"t":"N-A-S-H"},{"q":4.9,"v":58.5,"t":"N-A-S-H"},{"q":6.3,"v":58.2,"t":"Si/Al=2"},
      {"q":2.25,"v":46.0,"t":"N(-C)-A-S-H"},{"q":4.88,"v":46.2,"t":"N(-C)-A-S-H"},
      {"q":1.81,"v":33.0,"t":"Z"},{"q":1.86,"v":26.1,"t":"Z"},{"q":0.43,"v":25.4,"t":"Z"},{"q":3.28,"v":25.8,"t":"C"},
      {"q":0.55,"v":18.4,"t":"S"},{"q":1.19,"v":16.2,"t":"K"},{"q":2.78,"v":16.4,"t":"K"},{"q":3.14,"v":18.1,"t":"K"},
      {"q":2.3,"v":10.8,"t":"K"},{"q":2.78,"v":8.7,"t":"K"},{"q":3.27,"v":6.1,"t":"C"}
    ],
    "txtB": [
      {"q":2.11,"v":55.8,"t":"N-A-S-H"},{"q":4.77,"v":54.8,"t":"N-A-S-H"},{"q":6.29,"v":57.4,"t":"Si/Al=1"},
      {"q":1.93,"v":41.1,"t":"N(-C)-A-S-H"},{"q":4.66,"v":43.3,"t":"N(-C)-A-S-H"},
      {"q":0.45,"v":33.3,"t":"Z"},{"q":1.64,"v":31.8,"t":"Z"},{"q":2.23,"v":34.0,"t":"Z"},
      {"q":2.78,"v":16.9,"t":"K"},{"q":2.31,"v":9.8,"t":"K"},{"q":3.27,"v":6.1,"t":"C"},{"q":3.12,"v":1.4,"t":"K"},
      {"q":0.54,"v":2.3,"t":"S"},{"q":4.36,"v":18.6,"t":"C"}
    ],
    "legA": [
      {"q":0.03,"v":63.75,"t":"•: C-A-S-H\u00a0\u00a0Z: Zeolite\u00a0\u00a0C: Calcite"},
      {"q":0.03,"v":61.4,"t":"K: Katoite\u00a0\u00a0\u00a0S: Strätlingite"}
    ],
    "legB": [
      {"q":0.016,"v":63.65,"t":"•: C-A-S-H\u00a0\u00a0Z: Zeolite\u00a0\u00a0C: Calcite"},
      {"q":0.016,"v":61.1,"t":"K: Katoite\u00a0\u00a0\u00a0S: Strätlingite"}
    ],
    "tagA": [{"q":-1.23,"v":61.0,"t":"(a)"}],
    "tagB": [{"q":-1.07,"v":60.0,"t":"(b)"}]
  },
  "vconcat": [
    {
      "width": 427, "height": 563,
      "resolve": {"axis": {"x": "independent", "y": "independent"}},
      "layer": [
        {"data": {"name": "dashA"},
         "mark": {"type": "rule", "strokeDash": [5, 4], "color": "#8a8a8a", "strokeWidth": 1.3},
         "encoding": {
           "x": {"field": "q", "type": "quantitative", "scale": {"domain": [0, 7], "nice": false, "zero": false},
                 "axis": {"orient": "top", "values": [0,0.5,1,1.5,2,2.5,3,3.5,4,4.5,5,5.5,6,6.5,7], "tickSize": -4, "labels": false, "title": null}},
           "y": {"field": "v", "type": "quantitative", "scale": {"domain": [-4, 60], "nice": false, "zero": false},
                 "axis": {"orient": "right", "values": [-2,0,2,4,6,8,10,12,14,16,18,20,22,24,26,28,30,32,34,36,38,40,42,44,46,48,50,52,54,56,58], "tickSize": -4, "labels": false, "title": null}},
           "y2": {"field": "v2"}}},
        {"data": {"name": "a"},
         "mark": {"type": "line", "strokeWidth": 1.9, "interpolate": "monotone"},
         "encoding": {
           "x": {"field": "q", "type": "quantitative",
                 "axis": {"orient": "bottom", "values": [0,1,2,3,4,5,6,7], "tickSize": 7, "labelPadding": 5, "title": "Q (Å⁻¹)", "titlePadding": 9}},
           "y": {"field": "v", "type": "quantitative",
                 "axis": {"orient": "left", "values": [0,10,20,30,40,50,60], "tickSize": 5, "labelPadding": 3, "title": "S(Q) (Å⁻¹)", "titlePadding": 16}},
           "color": {"field": "k", "type": "nominal", "legend": null,
                     "scale": {"domain": [1,2,3,4,5,6,7,8,9,10,11,12,13,14,15],
                               "range": ["#3b2c5a","#5b4090","#7d62b3","#c2abdc","#8b90d6","#3c3f9a","#c9cdb4","#6f8f55","#55703f","#fcc48c","#f1916b","#e8a6bf","#d4496a","#c27b73","#b44f38"]}}}},
        {"data": {"name": "dotsA"},
         "mark": {"type": "circle", "size": 80, "color": "#000", "opacity": 1},
         "encoding": {
           "x": {"field": "q", "type": "quantitative",
                 "axis": {"orient": "bottom", "values": [0.5,1.5,2.5,3.5,4.5,5.5,6.5], "tickSize": 4, "labels": false, "title": null}},
           "y": {"field": "v", "type": "quantitative",
                 "axis": {"orient": "left", "values": [-2,2,4,6,8,12,14,16,18,22,24,26,28,32,34,36,38,42,44,46,48,52,54,56,58], "tickSize": 3, "labels": false, "title": null}}}},
        {"data": {"name": "txtA"},
         "mark": {"type": "text", "font": "Liberation Sans", "fontWeight": "bold", "fontSize": 17, "color": "#111"},
         "encoding": {"x": {"field": "q", "type": "quantitative", "axis": null}, "y": {"field": "v", "type": "quantitative", "axis": null}, "text": {"field": "t"}}},
        {"data": {"name": "labA"},
         "mark": {"type": "text", "align": "left", "font": "Liberation Sans", "fontWeight": "bold", "fontSize": 17},
         "encoding": {
           "x": {"datum": 7.1, "type": "quantitative", "axis": null},
           "y": {"field": "v", "type": "quantitative", "axis": null},
           "text": {"field": "name"},
           "color": {"field": "k", "type": "nominal", "legend": null,
                     "scale": {"domain": [1,2,3,4,5,6,7,8,9,10,11,12,13,14,15],
                               "range": ["#3b2c5a","#5b4090","#7d62b3","#c2abdc","#8b90d6","#3c3f9a","#c9cdb4","#6f8f55","#55703f","#fcc48c","#f1916b","#e8a6bf","#d4496a","#c27b73","#b44f38"]}}}},
        {"data": {"name": "legA"},
         "mark": {"type": "text", "align": "left", "font": "Liberation Sans", "fontWeight": "bold", "fontSize": 17.5, "color": "#111"},
         "encoding": {"x": {"field": "q", "type": "quantitative", "axis": null}, "y": {"field": "v", "type": "quantitative", "axis": null}, "text": {"field": "t"}}},
        {"data": {"name": "tagA"},
         "mark": {"type": "text", "align": "left", "font": "Liberation Sans", "fontWeight": "bold", "fontSize": 20, "color": "#111"},
         "encoding": {"x": {"field": "q", "type": "quantitative", "axis": null}, "y": {"field": "v", "type": "quantitative", "axis": null}, "text": {"field": "t"}}}
      ]
    },
    {
      "width": 425, "height": 566,
      "resolve": {"axis": {"x": "independent", "y": "independent"}},
      "layer": [
        {"data": {"name": "dashB"},
         "mark": {"type": "rule", "strokeDash": [5, 4], "color": "#8a8a8a", "strokeWidth": 1.3},
         "encoding": {
           "x": {"field": "q", "type": "quantitative", "scale": {"domain": [0, 7], "nice": false, "zero": false},
                 "axis": {"orient": "top", "values": [0,0.5,1,1.5,2,2.5,3,3.5,4,4.5,5,5.5,6,6.5,7], "tickSize": -4, "labels": false, "title": null}},
           "y": {"field": "v", "type": "quantitative", "scale": {"domain": [-4, 60], "nice": false, "zero": false},
                 "axis": {"orient": "right", "values": [-2,0,2,4,6,8,10,12,14,16,18,20,22,24,26,28,30,32,34,36,38,40,42,44,46,48,50,52,54,56,58], "tickSize": -4, "labels": false, "title": null}},
           "y2": {"field": "v2"}}},
        {"data": {"name": "b"},
         "mark": {"type": "line", "strokeWidth": 1.9, "interpolate": "monotone"},
         "encoding": {
           "x": {"field": "q", "type": "quantitative",
                 "axis": {"orient": "bottom", "values": [0,1,2,3,4,5,6,7], "tickSize": 7, "labelPadding": 5, "title": "Q (Å⁻¹)", "titlePadding": 9}},
           "y": {"field": "v", "type": "quantitative",
                 "axis": {"orient": "left", "values": [0,10,20,30,40,50,60], "tickSize": 5, "labelPadding": 3, "title": "S(Q) (Å⁻¹)", "titlePadding": 16}},
           "color": {"field": "k", "type": "nominal", "legend": null,
                     "scale": {"domain": [1,2,3,4,5,6,7,8,9,10,11,12,13,14],
                               "range": ["#3b2c5a","#5b4090","#7d62b3","#c2abdc","#8b90d6","#3c3f9a","#c9cdb4","#6f8f55","#55703f","#fcc48c","#f1916b","#e8a6bf","#d4496a","#b44f38"]}}}},
        {"data": {"name": "dotsB"},
         "mark": {"type": "circle", "size": 80, "color": "#000", "opacity": 1},
         "encoding": {
           "x": {"field": "q", "type": "quantitative",
                 "axis": {"orient": "bottom", "values": [0.5,1.5,2.5,3.5,4.5,5.5,6.5], "tickSize": 4, "labels": false, "title": null}},
           "y": {"field": "v", "type": "quantitative",
                 "axis": {"orient": "left", "values": [-2,2,4,6,8,12,14,16,18,22,24,26,28,32,34,36,38,42,44,46,48,52,54,56,58], "tickSize": 3, "labels": false, "title": null}}}},
        {"data": {"name": "txtB"},
         "mark": {"type": "text", "font": "Liberation Sans", "fontWeight": "bold", "fontSize": 17, "color": "#111"},
         "encoding": {"x": {"field": "q", "type": "quantitative", "axis": null}, "y": {"field": "v", "type": "quantitative", "axis": null}, "text": {"field": "t"}}},
        {"data": {"name": "labB"},
         "mark": {"type": "text", "align": "left", "font": "Liberation Sans", "fontWeight": "bold", "fontSize": 17},
         "encoding": {
           "x": {"datum": 7.1, "type": "quantitative", "axis": null},
           "y": {"field": "v", "type": "quantitative", "axis": null},
           "text": {"field": "name"},
           "color": {"field": "k", "type": "nominal", "legend": null,
                     "scale": {"domain": [1,2,3,4,5,6,7,8,9,10,11,12,13,14],
                               "range": ["#3b2c5a","#5b4090","#7d62b3","#c2abdc","#8b90d6","#3c3f9a","#c9cdb4","#6f8f55","#55703f","#fcc48c","#f1916b","#e8a6bf","#d4496a","#b44f38"]}}}},
        {"data": {"name": "legB"},
         "mark": {"type": "text", "align": "left", "font": "Liberation Sans", "fontWeight": "bold", "fontSize": 17.5, "color": "#111"},
         "encoding": {"x": {"field": "q", "type": "quantitative", "axis": null}, "y": {"field": "v", "type": "quantitative", "axis": null}, "text": {"field": "t"}}},
        {"data": {"name": "tagB"},
         "mark": {"type": "text", "align": "left", "font": "Liberation Sans", "fontWeight": "bold", "fontSize": 20, "color": "#111"},
         "encoding": {"x": {"field": "q", "type": "quantitative", "axis": null}, "y": {"field": "v", "type": "quantitative", "axis": null}, "text": {"field": "t"}}}
      ]
    }
  ]
}
